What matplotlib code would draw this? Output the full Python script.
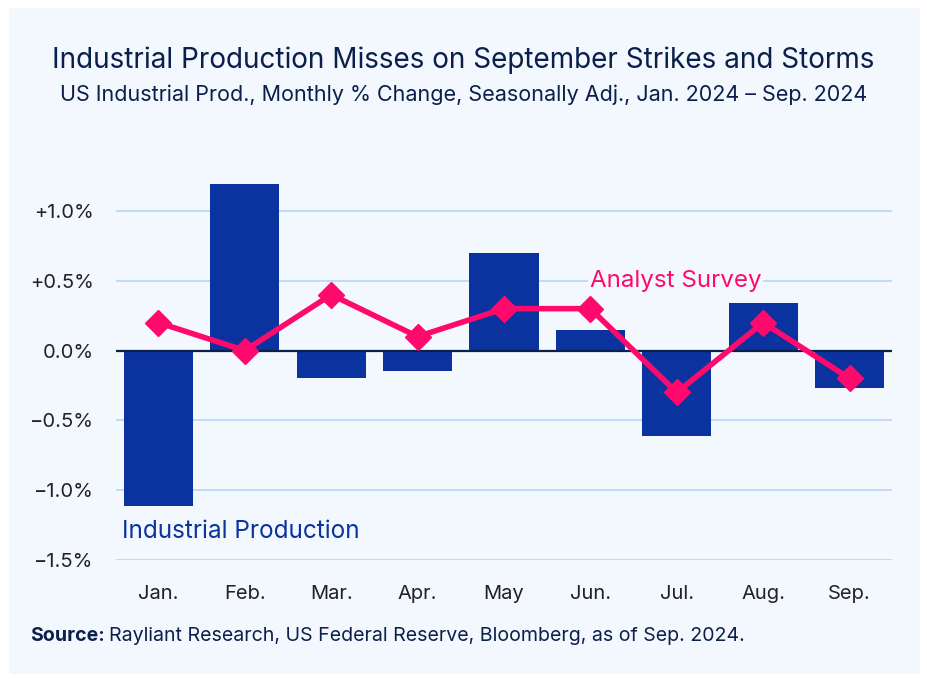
import matplotlib.pyplot as plt
from matplotlib.patches import FancyBboxPatch

# data
months = ["Jan.", "Feb.", "Mar.", "Apr.", "May", "Jun.", "Jul.", "Aug.", "Sep."]
industrial_prod = [-1.11, 1.19, -0.20, -0.15, 0.70, 0.15, -0.61, 0.34, -0.27]
analyst_survey = [0.2, 0.0, 0.4, 0.1, 0.3, 0.3, -0.3, 0.2, -0.2]
y_ticks = [-1.5, -1.0, -0.5, 0.0, 0.5, 1.0]
y_tick_labels = ["\u22121.5%", "\u22121.0%", "\u22120.5%", "0.0%", "+0.5%", "+1.0%"]

BG = "#F3F8FE"
NAVY = "#0B1F4B"
BAR = "#0A33A0"
PINK = "#FF0A6C"
GRID = "#BFDAF8"
TXT = "#222222"

plt.rcParams["font.family"] = ["Inter", "DejaVu Sans"]

fig = plt.figure(figsize=(9.27, 6.82), dpi=100)
fig.patch.set_facecolor("white")
# light panel behind everything
panel = FancyBboxPatch((9 / 927, 8 / 682), 911 / 927, 666 / 682,
                       boxstyle="round,pad=0,rounding_size=0.004",
                       transform=fig.transFigure, facecolor=BG,
                       edgecolor="none", zorder=-5)
fig.patches.append(panel)

ax = fig.add_axes([116 / 927, 122 / 682, 776 / 927, 384 / 682])
ax.set_zorder(2)
ax.set_facecolor("none")
x = list(range(len(months)))

ax.bar(x, industrial_prod, width=0.8, color=BAR, zorder=2)
ax.plot(x, analyst_survey, color=PINK, linewidth=4, marker="D",
        markersize=13, zorder=4)
ax.axhline(0, color=NAVY, linewidth=1.6, zorder=3)

ax.set_xlim(-0.49, 8.49)
ax.set_ylim(-1.5, 1.25)
ax.set_yticks(y_ticks)
ax.set_yticklabels(y_tick_labels)
ax.set_xticks(x)
ax.set_xticklabels(months)
ax.tick_params(length=0, labelsize=14.5, colors=TXT)
ax.tick_params(axis="y", pad=16)
ax.tick_params(axis="x", pad=18)
for t in y_ticks:
    if t != 0:
        ax.axhline(t, color=GRID, linewidth=1.4, zorder=1)
for s in ax.spines.values():
    s.set_visible(False)

ax.text(-0.42, -1.295, "Industrial Production", color=BAR, fontsize=17.5,
        va="center", ha="left", zorder=5)
ax.text(4.99, 0.5, "Analyst Survey", color=PINK, fontsize=17.4,
        va="center", ha="left", zorder=5,
        bbox=dict(facecolor=BG, edgecolor="none", pad=1))

fig.text(0.5, 1 - 60 / 682, "Industrial Production Misses on September Strikes and Storms",
         ha="center", va="center", fontsize=20.1, color=NAVY)
fig.text(0.5, 1 - 95 / 682,
         "US Industrial Prod., Monthly % Change, Seasonally Adj., Jan. 2024 \u2013 Sep. 2024",
         ha="center", va="center", fontsize=15.5, color=NAVY)

src = fig.text(30 / 927, 1 - 636 / 682, "Source:", ha="left", va="center",
               fontsize=14.1, color=NAVY, fontweight="bold")
fig.canvas.draw()
bb = src.get_window_extent()
fig.text((bb.x1 + 4) / 927, 1 - 636 / 682,
         "Rayliant Research, US Federal Reserve, Bloomberg, as of Sep. 2024.",
         ha="left", va="center", fontsize=14.1, color=NAVY)

fig.savefig("out.png", dpi=100, facecolor="white")
